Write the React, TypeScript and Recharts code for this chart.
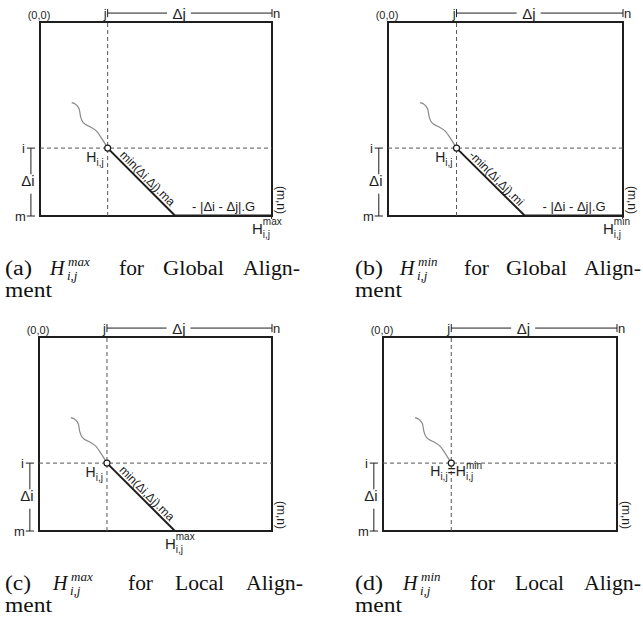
import React from 'react';
import { LineChart, Line, XAxis, YAxis, ReferenceLine, ReferenceArea, ReferenceDot } from 'recharts';

// ---- matrix geometry (cell indices) ----
const nCols = 12; // n
const mRows = 10; // m
const iRow = 6.5; // i
const jCol = 3.5; // j

// traceback path arriving at H(i,j)
const wiggleX = [1.64, 1.86, 2.03, 2.1, 2.24, 2.59, 2.96, 3.19, 3.5];
const wiggleY = [4.16, 4.26, 4.5, 4.88, 5.19, 5.4, 5.66, 6.0, 6.5];

// ---- per-panel content ----
const panelTags = ['(a)', '(b)', '(c)', '(d)'];
const panelBounds = ['max', 'min', 'max', 'min'];
const panelModes = ['Global', 'Global', 'Local', 'Local'];
const diagTexts = ['min(\u0394i,\u0394j).ma', '-min(\u0394i,\u0394j).mi', 'min(\u0394i,\u0394j).ma', ''];
const gapTexts = ['- |\u0394i - \u0394j|.G', '- |\u0394i - \u0394j|.G', '', ''];
const boundPlace = ['corner', 'corner', 'diagEnd', 'cell'];

// ---- tick / axis texts ----
const originText = '(0,0)';
const endText = '(m,n)';
const rowTexts = ['i', 'm'];
const colTexts = ['j', 'n'];
const deltaI = '\u0394i';
const deltaJ = '\u0394j';
const capWords = ['for', 'Align-'];
const capSecond = 'ment';

const SANS = '"Liberation Sans", Arial, Helvetica, sans-serif';
const SERIF = '"Liberation Serif", "Times New Roman", serif';
const INK = '#1e1e1e';

const LAYOUT = [
  { left: 0, top: 0, width: 330, height: 310, margin: { top: 22, right: 58, bottom: 94, left: 40 } },
  { left: 330, top: 0, width: 313, height: 310, margin: { top: 22, right: 20, bottom: 94, left: 58 } },
  { left: 0, top: 310, width: 330, height: 313, margin: { top: 27, right: 58, bottom: 92, left: 39 } },
  { left: 330, top: 310, width: 313, height: 313, margin: { top: 27, right: 26, bottom: 92, left: 53 } },
];

// caption layout (justified lines): x of tag, H, "for", mode, "Align-"
const CAP_X = [
  [5, 50, 119, 163, 243],
  [355, 400, 464, 506, 584],
  [5, 53, 128, 175, 246],
  [355, 403, 470, 515, 584],
];
// rendered word widths (to mimic Computer Modern metrics)
const CAP_W: Record<string, number> = {
  '(a)': 27, '(b)': 28, '(c)': 26, '(d)': 28,
  for: 25, Global: 61, Local: 49, 'Align-': 57, ment: 47,
};
const CAP_Y = [275, 275, 590, 590];

type Part = { t: string; size?: number; dx?: number; dy?: number };
type Spec = {
  dx?: number;
  dy?: number;
  anchor?: 'start' | 'middle' | 'end';
  rotate?: number;
  size?: number;
  central?: boolean;
  parts: Part[];
};

const note = (spec: Spec) => ({
  content: (p: any) => {
    const vb = p.viewBox || { x: 0, y: 0, width: 0, height: 0 };
    const x = vb.x + (vb.width || 0) / 2 + (spec.dx || 0);
    const y = vb.y + (vb.height || 0) / 2 + (spec.dy || 0);
    return (
      <text
        transform={`translate(${x},${y}) rotate(${spec.rotate || 0})`}
        textAnchor={spec.anchor || 'start'}
        dominantBaseline={spec.central ? 'central' : 'alphabetic'}
        fontFamily={SANS}
        fontSize={spec.size || 12}
        fill={INK}
      >
        {spec.parts.map((pt, q) => (
          <tspan key={q} fontSize={pt.size || spec.size || 12} dx={pt.dx || 0} dy={pt.dy || 0}>
            {pt.t}
          </tspan>
        ))}
      </text>
    );
  },
});

function Panel({ k }: { k: number }) {
  const L = LAYOUT[k];
  const diagEnd = { x: jCol + (mRows - iRow), y: mRows };
  const wiggle = wiggleX.map((x, q) => ({ x, y: wiggleY[q] }));
  const diag = [{ x: jCol, y: iRow }, diagEnd];
  const gap = [diagEnd, { x: nCols, y: mRows }];
  const hasDiag = diagTexts[k] !== '';
  const hasGap = gapTexts[k] !== '';
  const bx = -0.47; // bracket x (left)
  const ty = -0.46; // bracket y (top)
  const tk = 0.21;
  const supW = panelBounds[k] === 'max' ? 18.9 : 16.1;
  const labels: { x: number; y: number; spec: Spec }[] = [
    { x: 0, y: 0, spec: { dx: -1, dy: -3, anchor: 'middle', size: 11, parts: [{ t: originText }] } },
    { x: bx, y: iRow, spec: { dx: -6, anchor: 'end', central: true, size: 13, parts: [{ t: rowTexts[0] }] } },
    { x: bx, y: mRows, spec: { dx: -5, anchor: 'end', central: true, size: 13, parts: [{ t: rowTexts[1] }] } },
    { x: bx, y: (iRow + mRows) / 2 - 0.1, spec: { dx: -3, anchor: 'middle', central: true, size: 15, parts: [{ t: deltaI }] } },
    { x: jCol, y: ty, spec: { dx: -1, anchor: 'end', central: true, size: 13, parts: [{ t: colTexts[0] }] } },
    { x: nCols, y: ty, spec: { dx: 1, anchor: 'start', central: true, size: 13, parts: [{ t: colTexts[1] }] } },
    { x: 7.2, y: ty, spec: { anchor: 'middle', central: true, size: 15, parts: [{ t: deltaJ }] } },
    { x: nCols, y: mRows, spec: { dx: 9, dy: -16, anchor: 'middle', central: true, rotate: 90, size: 12, parts: [{ t: endText }] } },
  ];
  if (boundPlace[k] !== 'cell') {
    labels.push({ x: jCol, y: iRow, spec: { dx: -4, dy: 14, anchor: 'end', size: 14, parts: [{ t: 'H' }, { t: 'i,j', size: 10, dy: 4 }] } });
  }
  const boundParts: Part[] = [
    { t: 'H', size: 15 },
    { t: panelBounds[k], size: 10, dy: -9 },
    { t: 'i,j', size: 10, dx: -supW, dy: 13 },
  ];
  if (boundPlace[k] === 'corner') {
    labels.push({ x: nCols, y: mRows, spec: { dx: -20, dy: 18, size: 15, parts: boundParts } });
  } else if (boundPlace[k] === 'diagEnd') {
    labels.push({ x: diagEnd.x, y: diagEnd.y, spec: { dx: -10, dy: 18, size: 15, parts: boundParts } });
  } else {
    labels.push({
      x: jCol,
      y: iRow,
      spec: {
        dx: -21,
        dy: 13,
        size: 14,
        parts: [
          { t: 'H' },
          { t: 'i,j', size: 10, dy: 4 },
          { t: '=', dy: -4 },
          { t: 'H' },
          { t: panelBounds[k], size: 10, dy: -7 },
          { t: 'i,j', size: 10, dx: -supW, dy: 11 },
        ],
      },
    });
  }
  if (hasDiag) {
    labels.push({ x: jCol + 0.5, y: iRow + 0.5, spec: { dx: 2, dy: -2, rotate: 45, size: 12, parts: [{ t: diagTexts[k] }] } });
  }
  if (hasGap) {
    labels.push({ x: 9.5, y: mRows, spec: { dy: -5, anchor: 'middle', size: 13, parts: [{ t: gapTexts[k] }] } });
  }

  const segs: { x1: number; y1: number; x2: number; y2: number }[] = [
    // left bracket i..m
    { x1: bx - tk, y1: iRow, x2: bx + tk, y2: iRow },
    { x1: bx - tk, y1: mRows, x2: bx + tk, y2: mRows },
    { x1: bx, y1: iRow, x2: bx, y2: 7.85 },
    { x1: bx, y1: 8.85, x2: bx, y2: mRows },
    // top bracket j..n
    { x1: jCol, y1: ty - tk, x2: jCol, y2: ty + tk },
    { x1: nCols, y1: ty - tk, x2: nCols, y2: ty + tk },
    { x1: jCol, y1: ty, x2: 6.57, y2: ty },
    { x1: 7.8, y1: ty, x2: nCols, y2: ty },
  ];
  if (hasGap) segs.push({ x1: nCols - 0.02, y1: mRows - 0.15, x2: nCols - 0.02, y2: mRows + 0.15 });

  return (
    <div style={{ position: 'absolute', left: L.left, top: L.top }}>
      <LineChart width={L.width} height={L.height} margin={L.margin}>
        <XAxis type="number" dataKey="x" domain={[0, nCols]} allowDataOverflow hide />
        <YAxis type="number" dataKey="y" domain={[0, mRows]} reversed allowDataOverflow hide />
        <ReferenceLine x={jCol} stroke="#555" strokeWidth={1} strokeDasharray="4 3" />
        <ReferenceLine y={iRow} stroke="#555" strokeWidth={1} strokeDasharray="4 3" />
        <ReferenceArea x1={0} x2={nCols} y1={0} y2={mRows} fill="none" fillOpacity={0} stroke={INK} strokeWidth={2} ifOverflow="visible" />
        {segs.map((s, q) => (
          <ReferenceLine
            key={'s' + q}
            segment={[{ x: s.x1, y: s.y1 }, { x: s.x2, y: s.y2 }]}
            stroke={INK}
            strokeWidth={1}
            ifOverflow="visible"
          />
        ))}
        <Line data={wiggle} dataKey="y" type="monotone" stroke="#8a8a8a" strokeWidth={1.2} dot={false} activeDot={false} isAnimationActive={false} />
        {hasDiag && (
          <Line data={diag} dataKey="y" type="linear" stroke={INK} strokeWidth={2} dot={false} activeDot={false} isAnimationActive={false} />
        )}
        {hasGap && (
          <Line data={gap} dataKey="y" type="linear" stroke={INK} strokeWidth={3} dot={false} activeDot={false} isAnimationActive={false} />
        )}
        <ReferenceDot x={jCol} y={iRow} r={3} fill="#fff" stroke={INK} strokeWidth={1.2} ifOverflow="visible" />
        {labels.map((lb, q) => (
          <ReferenceDot key={'l' + q} x={lb.x} y={lb.y} r={0} fill="none" stroke="none" ifOverflow="visible" label={note(lb.spec)} />
        ))}
      </LineChart>
    </div>
  );
}

const Word = ({ x, y, t }: { x: number; y: number; t: string }) => (
  <text x={x} y={y} textLength={CAP_W[t]} lengthAdjust="spacingAndGlyphs">
    {t}
  </text>
);

function Captions() {
  return (
    <svg width={643} height={623} style={{ position: 'absolute', left: 0, top: 0, pointerEvents: 'none' }}>
      {panelTags.map((tag, k) => {
        const xs = CAP_X[k];
        const y = CAP_Y[k];
        return (
          <g key={k} fontFamily={SERIF} fontSize={20} fill="#111">
            <Word x={xs[0]} y={y} t={tag} />
            <text x={xs[1]} y={y} fontStyle="italic">H</text>
            <text x={xs[1] + 18} y={y - 9} fontStyle="italic" fontSize={13}>{panelBounds[k]}</text>
            <text x={xs[1] + 17} y={y + 5} fontStyle="italic" fontSize={13}>i,j</text>
            <Word x={xs[2]} y={y} t={capWords[0]} />
            <Word x={xs[3]} y={y} t={panelModes[k]} />
            <Word x={xs[4]} y={y} t={capWords[1]} />
            <Word x={xs[0]} y={y + 22} t={capSecond} />
          </g>
        );
      })}
    </svg>
  );
}

export default function App() {
  return (
    <div style={{ position: 'absolute', left: 0, top: 0, width: 643, height: 623, background: '#fff', overflow: 'hidden' }}>
      {[0, 1, 2, 3].map((k) => (
        <Panel key={k} k={k} />
      ))}
      <Captions />
    </div>
  );
}
